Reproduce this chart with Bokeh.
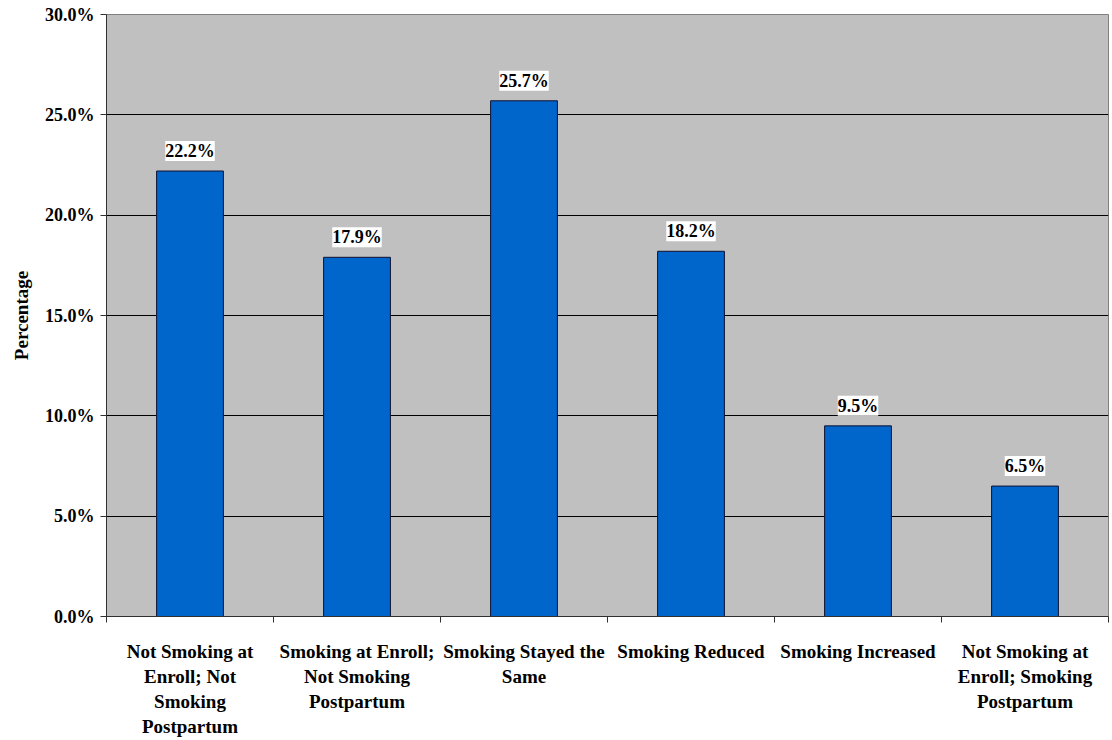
from bokeh.plotting import figure
from bokeh.models import (ColumnDataSource, FixedTicker, NumeralTickFormatter,
                          Range1d, LabelSet)
from bokeh.embed import file_html
from bokeh.resources import INLINE

categories = [
    "Not Smoking at\nEnroll; Not\nSmoking\nPostpartum",
    "Smoking at Enroll;\nNot Smoking\nPostpartum",
    "Smoking Stayed the\nSame",
    "Smoking Reduced",
    "Smoking Increased",
    "Not Smoking at\nEnroll; Smoking\nPostpartum",
]
percentages = [22.2, 17.9, 25.7, 18.2, 9.5, 6.5]
y_ticks = [0, 5, 10, 15, 20, 25, 30]

FONT = "Liberation Serif"

n = len(categories)
xs = [i + 0.5 for i in range(n)]
src = ColumnDataSource(dict(
    x=xs,
    top=[v / 100 for v in percentages],
    lab=[f"{v:.1f}%" for v in percentages],
))

p = figure(width=1112, height=740, output_backend="svg", toolbar_location=None,
           x_range=Range1d(0, n), y_range=Range1d(0, 0.30),
           min_border_left=106, min_border_right=4, min_border_top=14,
           min_border_bottom=120)
p.background_fill_color = "#C0C0C0"
p.border_fill_color = "white"
p.outline_line_color = "#808080"
p.outline_line_width = 1

p.vbar(x="x", top="top", bottom=0, width=0.4, source=src,
       fill_color="#0066CC", line_color="#101030", line_width=1)

labels = LabelSet(x="x", y="top", text="lab", source=src, y_offset=10,
                  text_align="center", text_baseline="bottom",
                  text_font=FONT, text_font_style="bold", text_font_size="18px",
                  text_color="black", background_fill_color="white",
                  background_fill_alpha=1.0)
p.add_layout(labels)

# y axis
p.yaxis.ticker = FixedTicker(ticks=[t / 100 for t in y_ticks])
p.yaxis.formatter = NumeralTickFormatter(format="0.0%")
p.yaxis.axis_label = "Percentage"
p.yaxis.axis_label_text_font = FONT
p.yaxis.axis_label_text_font_style = "bold"
p.yaxis.axis_label_text_font_size = "19px"
p.yaxis.axis_label_text_color = "black"
p.yaxis.axis_label_standoff = 10
p.yaxis.major_label_text_font = FONT
p.yaxis.major_label_text_font_style = "bold"
p.yaxis.major_label_text_font_size = "18px"
p.yaxis.major_label_text_color = "black"
p.yaxis.major_label_standoff = 6
p.yaxis.major_tick_in = 0
p.yaxis.major_tick_out = 6
p.yaxis.minor_tick_line_color = None
p.yaxis.axis_line_color = "#303030"
p.yaxis.major_tick_line_color = "#303030"

# x axis
p.xaxis.ticker = FixedTicker(ticks=xs, minor_ticks=list(range(n + 1)))
p.xaxis.major_label_overrides = {x: c for x, c in zip(xs, categories)}
p.xaxis.major_tick_line_color = None
p.xaxis.minor_tick_in = 0
p.xaxis.minor_tick_out = 6
p.xaxis.minor_tick_line_color = "#303030"
p.xaxis.axis_line_color = "#303030"
p.xaxis.major_label_text_font = FONT
p.xaxis.major_label_text_font_style = "bold"
p.xaxis.major_label_text_font_size = "19px"
p.xaxis.major_label_text_color = "black"
p.xaxis.major_label_standoff = 18

p.xgrid.grid_line_color = None
p.ygrid.grid_line_color = "black"
p.ygrid.grid_line_width = 1

open("out.html", "w").write(file_html(p, INLINE))
